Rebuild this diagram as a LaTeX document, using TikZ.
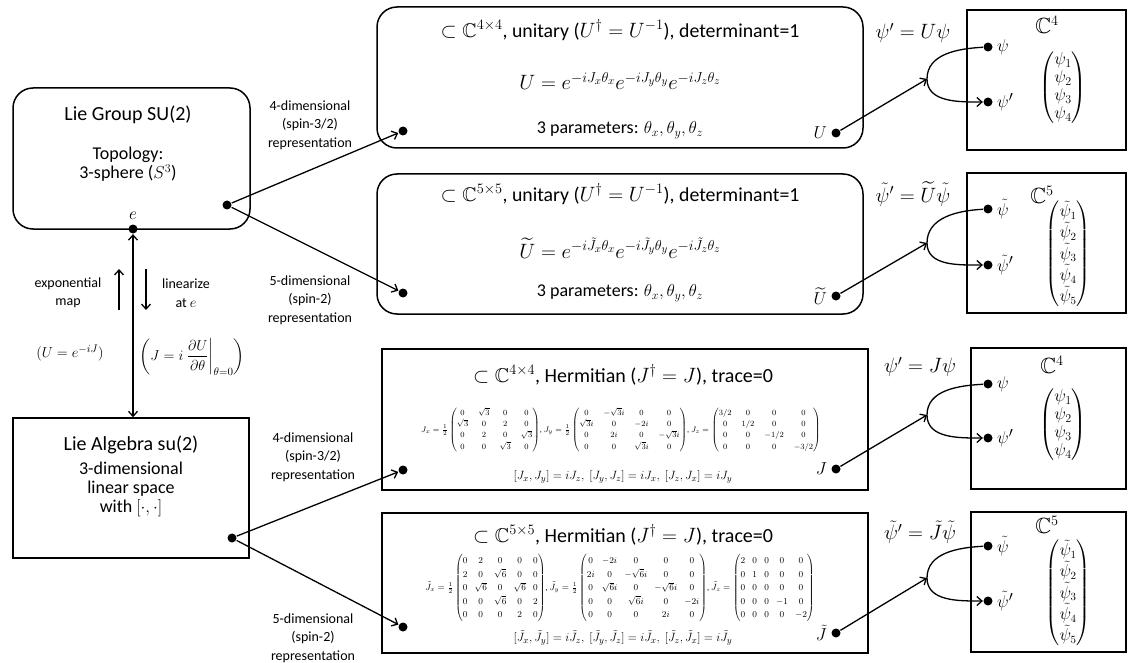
\documentclass[tikz,border=0pt]{standalone}
\usepackage{amsmath,amssymb}
\usepackage{fontspec}
\setmainfont{Carlito}
\usetikzlibrary{positioning,arrows.meta}
\newcommand{\fs}[2]{\fontsize{#1}{#2}\selectfont}
\newcommand{\tJ}{\tilde{J}}
\newcommand{\tpsi}{\tilde{\psi}}

\begin{document}
\begin{tikzpicture}[x=1pt, y=-1pt, >={Straight Barb[length=5pt,width=9pt]}, line width=1.3pt,
  rbox/.style={draw, line width=1.5pt, rounded corners=20pt, inner sep=0pt},
  sbox/.style={draw, line width=1.5pt, inner sep=0pt},
  dot/.style={circle, fill, inner sep=0pt, minimum size=9pt},
  ttl/.style={font=\fs{20}{24}},
  body/.style={font=\fs{18}{19}, align=center},
  lbl/.style={font=\fs{14}{18.5}, align=center},
  eqn/.style={font=\fs{22}{24}},
  sym/.style={font=\fs{19}{20}},
  vec/.style={font=\fs{17}{18}}]
  \useasboundingbox (0,0) rectangle (1129,663);
  % left column
  \node[rbox, minimum width=237pt, minimum height=141pt] (grp) at (131.5,158.5) {};
  \node[ttl] (grpT) at (128,115) {Lie Group SU(2)};
  \node[body] (grpS) at (128,164) {Topology:\\3-sphere ($S^3$)};
  \node[dot] (e) at (133,229) {};
  \node[font=\fs{17}{18}, above=0pt of e] (eL) {$e$};
  \node[dot] (g) at (227,205) {};
  \node[sbox, minimum width=236pt, minimum height=140pt] (alg) at (131,488) {};
  \node[ttl] (algT) at (131,445) {Lie Algebra su(2)};
  \node[body] (algS) at (131,489) {3-dimensional\\linear space\\with $[\cdot,\cdot]$};
  \node[dot] (a) at (232,538) {};
  \draw[<->] (e) -- (e |- alg.north);
  \coordinate (ex0) at (119,310);
  \coordinate (ex1) at (119,269);
  \coordinate (li0) at (146,269);
  \coordinate (li1) at (146,310);
  \draw[->] (ex0) -- (ex1);
  \draw[->] (li0) -- (li1);
  \node[lbl] (exL) at (68,293) {exponential\\map};
  \node[lbl] (liL) at (186,293) {linearize\\at $e$};
  \node[font=\fs{15}{17}] (exF) at (70,353) {$(U=e^{-iJ})$};
  \node[font=\fs{15}{17}] (liF) at (192,357) {$\left(J=i\left.\dfrac{\partial U}{\partial\theta}\right|_{\theta=0}\right)$};
  \node[lbl] (r1) at (310,125) {4-dimensional\\(spin-3/2)\\representation};
  \node[lbl] (r2) at (310,300) {5-dimensional\\(spin-2)\\representation};
  \node[lbl] (r3) at (313,457) {4-dimensional\\(spin-3/2)\\representation};
  \node[lbl] (r4) at (313,638) {5-dimensional\\(spin-2)\\representation};
  % group representations
  \node[rbox, minimum width=486pt, minimum height=141pt] (u4) at (620,77.5) {};
  \node[font=\fs{19.8}{22}] (u4T) at (620,30) {$\subset\mathbb{C}^{4\times4}$, unitary ($U^\dagger=U^{-1}$), determinant=1};
  \node[font=\fs{21.5}{24}] (u4F) at (620,81) {$U=e^{-iJ_x\theta_x}e^{-iJ_y\theta_y}e^{-iJ_z\theta_z}$};
  \node[font=\fs{18}{20}] (u4P) at (620,130) {3 parameters: $\theta_x,\theta_y,\theta_z$};
  \node[dot] (u4i) at (403,131) {};
  \node[dot, label={[sym]left:$U$}] (u4o) at (836,133) {};
  \node[rbox, minimum width=486pt, minimum height=140pt] (u5) at (620,244) {};
  \node[font=\fs{19.8}{22}] (u5T) at (620,194) {$\subset\mathbb{C}^{5\times5}$, unitary ($U^\dagger=U^{-1}$), determinant=1};
  \node[font=\fs{21.5}{24}] (u5F) at (620,248) {$\widetilde{U}=e^{-i\tJ_x\theta_x}e^{-i\tJ_y\theta_y}e^{-i\tJ_z\theta_z}$};
  \node[font=\fs{18}{20}] (u5P) at (620,293) {3 parameters: $\theta_x,\theta_y,\theta_z$};
  \node[dot] (u5i) at (403,293) {};
  \node[dot, label={[sym]left:$\widetilde{U}$}] (u5o) at (836,296) {};
  % algebra representations
  \node[sbox, minimum width=486pt, minimum height=141pt] (h4) at (625,419.5) {};
  \node[ttl] (h4T) at (623,375) {$\subset\mathbb{C}^{4\times4}$, Hermitian ($J^\dagger=J$), trace=0};
  \node[font=\fs{8.2}{9}] (h4M) at (621,430) {\renewcommand{\arraystretch}{1.25}\setlength{\arraycolsep}{5pt}%
    $J_x=\frac{1}{2}\begin{pmatrix}0&\sqrt3&0&0\\ \sqrt3&0&2&0\\ 0&2&0&\sqrt3\\ 0&0&\sqrt3&0\end{pmatrix}$,
    $J_y=\frac{1}{2}\begin{pmatrix}0&-\sqrt3i&0&0\\ \sqrt3i&0&-2i&0\\ 0&2i&0&-\sqrt3i\\ 0&0&\sqrt3i&0\end{pmatrix}$,
    $J_z=\begin{pmatrix}3/2&0&0&0\\ 0&1/2&0&0\\ 0&0&-1/2&0\\ 0&0&0&-3/2\end{pmatrix}$};
  \node[font=\fs{13}{15}] (h4C) at (623,477) {$[J_x,J_y]=iJ_z,\ [J_y,J_z]=iJ_x,\ [J_z,J_x]=iJ_y$};
  \node[dot] (h4i) at (403,470) {};
  \node[dot, label={[sym]left:$J$}] (h4o) at (836,469) {};
  \node[sbox, minimum width=486pt, minimum height=140pt] (h5) at (625,583) {};
  \node[ttl] (h5T) at (623,535) {$\subset\mathbb{C}^{5\times5}$, Hermitian ($J^\dagger=J$), trace=0};
  \node[font=\fs{8.6}{9}] (h5M) at (620,588) {\renewcommand{\arraystretch}{1.5}\setlength{\arraycolsep}{3.6pt}%
    $\tJ_x=\frac{1}{2}\begin{pmatrix}0&2&0&0&0\\ 2&0&\sqrt6&0&0\\ 0&\sqrt6&0&\sqrt6&0\\ 0&0&\sqrt6&0&2\\ 0&0&0&2&0\end{pmatrix}$,
    $\tJ_y=\frac{1}{2}\begin{pmatrix}0&-2i&0&0&0\\ 2i&0&-\sqrt6i&0&0\\ 0&\sqrt6i&0&-\sqrt6i&0\\ 0&0&\sqrt6i&0&-2i\\ 0&0&0&2i&0\end{pmatrix}$,
    $\tJ_z=\begin{pmatrix}2&0&0&0&0\\ 0&1&0&0&0\\ 0&0&0&0&0\\ 0&0&0&-1&0\\ 0&0&0&0&-2\end{pmatrix}$};
  \node[font=\fs{13}{15}] (h5C) at (623,638) {$[\tJ_x,\tJ_y]=i\tJ_z,\ [\tJ_y,\tJ_z]=i\tJ_x,\ [\tJ_z,\tJ_x]=i\tJ_y$};
  \node[dot] (h5i) at (403,627) {};
  \node[dot, label={[sym]left:$\tJ$}] (h5o) at (836,633) {};
  % vector spaces
  \node[sbox, minimum width=159pt, minimum height=140pt] (v1) at (1046.5,80) {};
  \node[sbox, minimum width=159pt, minimum height=140pt] (v2) at (1046.5,243) {};
  \node[sbox, minimum width=155pt, minimum height=141pt] (v3) at (1048.5,418.5) {};
  \node[sbox, minimum width=155pt, minimum height=140pt] (v4) at (1048.5,582) {};
  \node[font=\fs{22}{24}] (c1) at (1047,25) {$\mathbb{C}^4$};
  \node[font=\fs{22}{24}] (c2) at (1042,195) {$\mathbb{C}^5$};
  \node[font=\fs{22}{24}] (c3) at (1052,365) {$\mathbb{C}^4$};
  \node[font=\fs{22}{24}] (c4) at (1047,525) {$\mathbb{C}^5$};
  \node[vec] (x1) at (1063,88) {\setlength{\arraycolsep}{1pt}$\begin{pmatrix}\psi_1\\ \psi_2\\ \psi_3\\ \psi_4\end{pmatrix}$};
  \node[vec, font=\fs{16}{18}] (x2) at (1068,254) {\setlength{\arraycolsep}{1pt}$\begin{pmatrix}\tpsi_1\\ \tpsi_2\\ \tpsi_3\\ \tpsi_4\\ \tpsi_5\end{pmatrix}$};
  \node[vec] (x3) at (1063,425) {\setlength{\arraycolsep}{1pt}$\begin{pmatrix}\psi_1\\ \psi_2\\ \psi_3\\ \psi_4\end{pmatrix}$};
  \node[vec, font=\fs{16}{18}] (x4) at (1068,593) {\setlength{\arraycolsep}{1pt}$\begin{pmatrix}\tpsi_1\\ \tpsi_2\\ \tpsi_3\\ \tpsi_4\\ \tpsi_5\end{pmatrix}$};
  \node[dot, label={[sym]right:$\psi$}] (p1) at (988,47) {};
  \node[dot, label={[sym]right:$\psi'$}] (q1) at (988,102) {};
  \node[dot, label={[sym]right:$\tpsi$}] (p2) at (988,209) {};
  \node[dot, label={[sym]right:$\tpsi'$}] (q2) at (988,265) {};
  \node[dot, label={[sym]right:$\psi$}] (p3) at (988,384) {};
  \node[dot, label={[sym]right:$\psi'$}] (q3) at (988,438) {};
  \node[dot, label={[sym]right:$\tpsi$}] (p4) at (988,546) {};
  \node[dot, label={[sym]right:$\tpsi'$}] (q4) at (988,601) {};
  \coordinate (ap1) at (927,79);
  \coordinate (ap2) at (927,243);
  \coordinate (ap3) at (927,415);
  \coordinate (ap4) at (927,578);
  \node[eqn] (m1) at (913,33) {$\psi'=U\psi$};
  \node[eqn] (m2) at (913,194) {$\tpsi'=\widetilde{U}\tpsi$};
  \node[eqn] (m3) at (920,367) {$\psi'=J\psi$};
  \node[eqn] (m4) at (920,532) {$\tpsi'=\tJ\tpsi$};
  % connectors
  \draw[->] (g) -- (u4i);
  \draw[->] (g) -- (u5i);
  \draw[->] (a) -- (h4i);
  \draw[->] (a) -- (h5i);
  \draw[->] (u4o) -- (ap1);
  \draw[->] (u5o) -- (ap2);
  \draw[->] (h4o) -- (ap3);
  \draw[->] (h5o) -- (ap4);
  \draw[->] (p1) to[out=183,in=90] (ap1) to[out=-90,in=180] (q1);
  \draw[->] (p2) to[out=183,in=90] (ap2) to[out=-90,in=180] (q2);
  \draw[->] (p3) to[out=183,in=90] (ap3) to[out=-90,in=180] (q3);
  \draw[->] (p4) to[out=183,in=90] (ap4) to[out=-90,in=180] (q4);
\end{tikzpicture}
\end{document}
